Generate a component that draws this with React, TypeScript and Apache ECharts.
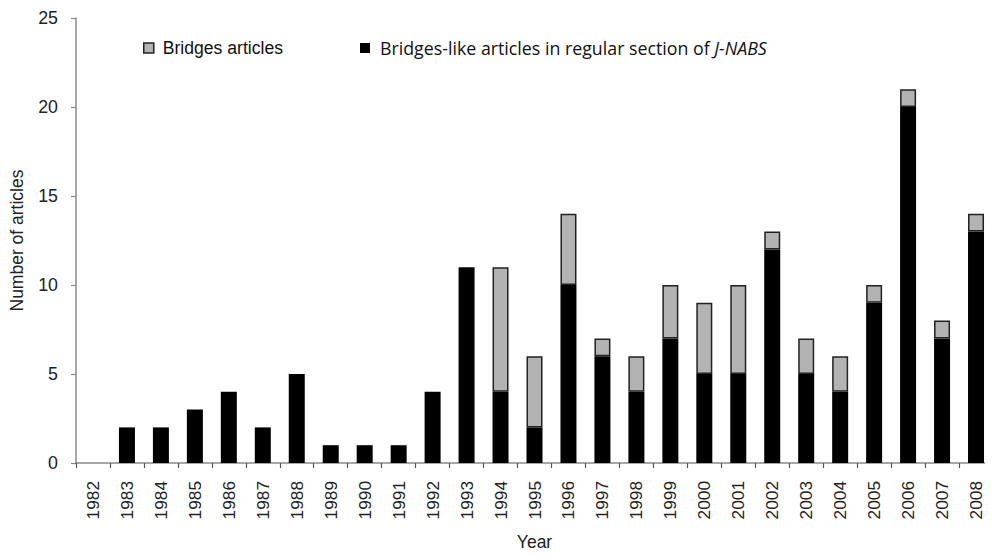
import React, { useEffect, useRef } from "react";
import * as echarts from "echarts";

const years = ["1982","1983","1984","1985","1986","1987","1988","1989","1990","1991","1992","1993","1994","1995","1996","1997","1998","1999","2000","2001","2002","2003","2004","2005","2006","2007","2008"];
const regularSection = [0,2,2,3,4,2,5,1,1,1,4,11,4,2,10,6,4,7,5,5,12,5,4,9,20,7,13];
const bridgesArticles = [0,0,0,0,0,0,0,0,0,0,0,0,7,4,4,1,2,3,4,5,1,2,2,1,1,1,1];
const yTicks = { min: 0, max: 25, interval: 5 };

const NAME_BRIDGES = "Bridges articles";
const NAME_REGULAR = "Bridges-like articles in regular section of J-NABS";

export default function App() {
  const ref = useRef<HTMLDivElement>(null);
  useEffect(() => {
    if (!ref.current) return;
    const chart = echarts.init(ref.current, null, { renderer: "svg" });
    const axisFont = "'Liberation Sans', Arial, sans-serif";
    const legend2Font = "'Open Sans', 'Noto Sans', sans-serif";
    chart.setOption({
      animation: false,
      backgroundColor: "#ffffff",
      grid: { left: 76, right: -8, top: 18, bottom: 87, containLabel: false },
      legend: [
        {
          data: [NAME_BRIDGES],
          left: 143,
          top: 39,
          padding: 0,
          itemWidth: 10,
          itemHeight: 10,
          icon: "rect",
          itemStyle: { color: "#b3b3b3", borderColor: "#222", borderWidth: 1.5 },
          textStyle: { fontFamily: axisFont, fontSize: 17.6, color: "#111", padding: [0, 0, 0, 4] },
        },
        {
          data: [NAME_REGULAR],
          left: 360,
          top: 39,
          padding: 0,
          itemWidth: 10,
          itemHeight: 10,
          icon: "rect",
          itemStyle: { color: "#000", borderWidth: 0 },
          formatter: () => "Bridges-like articles in regular section of {i|J-NABS}",
          textStyle: {
            fontFamily: legend2Font,
            fontSize: 17.8,
            color: "#111",
            padding: [0, 0, 0, 5],
            rich: {
              i: { fontFamily: legend2Font, fontSize: 17.8, fontStyle: "italic", color: "#111" },
            },
          },
        },
      ],
      xAxis: {
        type: "category",
        data: years,
        name: "Year",
        nameLocation: "middle",
        nameGap: 70,
        nameTextStyle: { fontFamily: axisFont, fontSize: 17.5, color: "#222" },
        axisLine: { show: true, lineStyle: { color: "#8a8a8a", width: 1.5 } },
        axisTick: { show: true, length: 5, lineStyle: { color: "#555", width: 1.2 } },
        axisLabel: { rotate: 90, margin: 18, fontFamily: axisFont, fontSize: 17.3, color: "#222" },
        splitLine: { show: false },
      },
      yAxis: {
        type: "value",
        min: yTicks.min,
        max: yTicks.max,
        interval: yTicks.interval,
        name: "Number of articles",
        nameLocation: "middle",
        nameGap: 50,
        nameTextStyle: { fontFamily: axisFont, fontSize: 17.5, color: "#222" },
        axisLine: { show: true, lineStyle: { color: "#8a8a8a", width: 1.5 } },
        axisTick: { show: true, length: 5, lineStyle: { color: "#8a8a8a", width: 1.2 } },
        axisLabel: { margin: 18, fontFamily: axisFont, fontSize: 17.8, color: "#222" },
        splitLine: { show: false },
      },
      series: [
        {
          name: NAME_REGULAR,
          type: "bar",
          stack: "total",
          barWidth: 16,
          data: regularSection,
          itemStyle: { color: "#000000" },
        },
        {
          name: NAME_BRIDGES,
          type: "bar",
          stack: "total",
          barWidth: 16,
          data: bridgesArticles.map((v) => (v === 0 ? null : v)),
          itemStyle: { color: "#b3b3b3", borderColor: "#222", borderWidth: 1.5 },
        },
      ],
    });
    return () => chart.dispose();
  }, []);
  return <div ref={ref} style={{ width: 993, height: 556, margin: -8 }} />;
}
